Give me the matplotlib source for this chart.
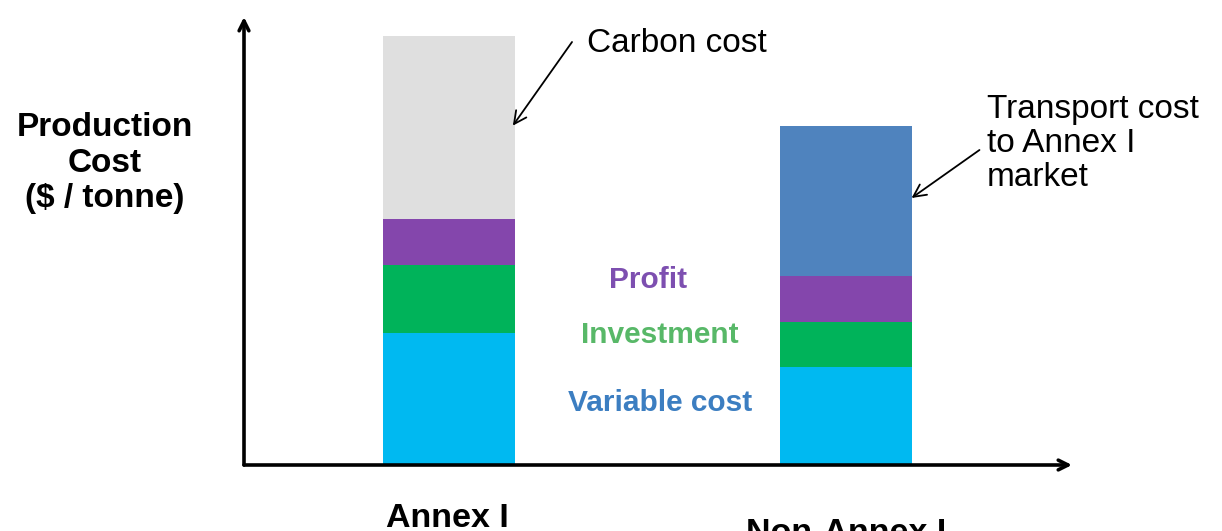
import matplotlib
matplotlib.use("Agg")
import matplotlib.pyplot as plt

plt.rcParams['font.family'] = ['Liberation Sans', 'DejaVu Sans']

# Schematic cost build-up per tonne (arbitrary units)
categories = ["Annex I", "Non-Annex I"]
variable_cost = [132, 98]
investment = [68, 45]
profit = [46, 46]
carbon_cost = [183, 0]
transport_cost = [0, 150]

segments = [
    ("Variable cost", variable_cost, "#00B9F1"),
    ("Investment", investment, "#00B35A"),
    ("Profit", profit, "#8446AC"),
    ("Carbon cost", carbon_cost, "#DFDFDF"),
    ("Transport cost", transport_cost, "#4F83BE"),
]

W, H = 1222, 531
fig = plt.figure(figsize=(W / 100, H / 100), dpi=100)
fig.patch.set_facecolor("white")

# axes box: origin at the corner of the two arrows
x0, y0, x1, y1 = 244, 465, 1072, 17
ax = fig.add_axes([x0 / W, 1 - y0 / H, (x1 - x0) / W, (y0 - y1) / H])
ax.set_xlim(-0.516, 1.569)
ax.set_ylim(0, 448)
ax.axis("off")

xpos = list(range(len(categories)))
bottom = [0] * len(categories)
for name, vals, col in segments:
    ax.bar(xpos, vals, width=0.332, bottom=bottom, color=col, linewidth=0)
    bottom = [b + v for b, v in zip(bottom, vals)]

# axis arrows
arrow_kw = dict(arrowstyle="->,head_length=0.7,head_width=0.35", lw=2.6,
                color="black", shrinkA=0, shrinkB=0)
ax.annotate("", xy=(0, 1.0), xytext=(0, 0), xycoords="axes fraction",
            arrowprops=arrow_kw, annotation_clip=False)
ax.annotate("", xy=(1.0, 0), xytext=(0, 0), xycoords="axes fraction",
            arrowprops=arrow_kw, annotation_clip=False)

# pointer arrows for the top segments
ptr_kw = dict(arrowstyle="->,head_length=0.9,head_width=0.45", lw=1.3,
              color="black", shrinkA=0, shrinkB=0)
top1 = variable_cost[0] + investment[0] + profit[0]
ax.annotate("", xy=(0.161, top1 + carbon_cost[0] * 0.51), xytext=(0.31, 423),
            arrowprops=ptr_kw)
top2 = variable_cost[1] + investment[1] + profit[1]
ax.annotate("", xy=(1.165, top2 + transport_cost[1] * 0.52), xytext=(1.336, 315),
            arrowprops=ptr_kw)

ax.text(0.348, 421, "Carbon cost", fontsize=24, ha="left", va="center")
ax.text(1.354, 371, "Transport cost\nto Annex I\nmarket", fontsize=24,
        ha="left", va="top", linespacing=1.12)

# segment legend labels between the bars
ax.text(0.501, 185, "Profit", fontsize=21.5, fontweight="bold",
        color="#7D4FB0", ha="center", va="center")
ax.text(0.531, 130, "Investment", fontsize=21.5, fontweight="bold",
        color="#58B868", ha="center", va="center")
ax.text(0.531, 62, "Variable cost", fontsize=21.5, fontweight="bold",
        color="#3C7EC1", ha="center", va="center")

# y-axis title
fig.text(105 / W, 1 - 163 / H, "Production\nCost\n($ / tonne)", fontsize=24,
         fontweight="bold", ha="center", va="center", multialignment="center",
         linespacing=1.2)

# category labels
fig.text(447 / W, 1 - 527 / H, categories[0], fontsize=24.5, fontweight="bold",
         ha="center", va="baseline")
fig.text(846 / W, 1 - 542 / H, categories[1], fontsize=24.5, fontweight="bold",
         ha="center", va="baseline")

fig.savefig("out.png", dpi=100, facecolor="white")
